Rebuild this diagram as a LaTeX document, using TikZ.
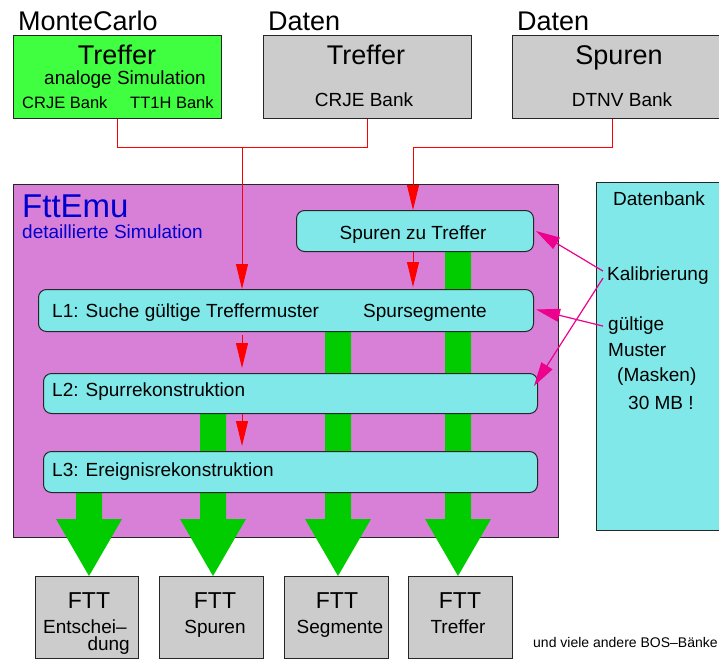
\documentclass[tikz,border=0pt]{standalone}
\usepackage{fontspec}
\setmainfont{Liberation Sans}
\usetikzlibrary{arrows.meta,calc}
\definecolor{gTop}{HTML}{40FF40}
\definecolor{grayBox}{HTML}{CCCCCC}
\definecolor{orch}{HTML}{D880D8}
\definecolor{cyanBox}{HTML}{80E8E8}
\definecolor{gBar}{HTML}{00CC00}
\definecolor{bluText}{HTML}{0000CC}
\pgfdeclarelayer{bg}\pgfdeclarelayer{mid}\pgfsetlayers{bg,mid,main}
\newcommand\fs[1]{\fontsize{#1}{#1}\selectfont}
\newcommand\garrow[3]{%
  \path (#1.south -| #3) coordinate (gs) (#2.north -| #3) coordinate (ge);
  \fill[gBar] ($(gs)+(-13,0)$) -- ($(ge)+(-13,-57)$) -- ($(ge)+(-33,-57)$) -- (ge)
     -- ($(ge)+(33,-57)$) -- ($(ge)+(13,-57)$) -- ($(gs)+(13,0)$) -- cycle;}
\begin{document}
\begin{tikzpicture}[x=1pt,y=-1pt,
  box/.style={draw=black!85, line width=1pt, inner sep=0pt, anchor=north west},
  rbox/.style={box, fill=cyanBox, rounded corners=8pt},
  lbl/.style={inner sep=0pt, anchor=base},
  lblw/.style={inner sep=0pt, anchor=base west},
  lble/.style={inner sep=0pt, anchor=base east},
  redline/.style={red, line width=1pt},
  redarrow/.style={redline, -{Triangle[length=25pt,width=12pt]}},
  magarrow/.style={magenta, line width=1.2pt, -{Triangle[length=24pt,width=13pt]}}]
\useasboundingbox (0,0) rectangle (719,659);
\clip (0,0) rectangle (719,659);

\begin{pgfonlayer}{bg}
\node[box, fill=orch, minimum width=545pt, minimum height=353pt] (emu) at (13,184) {};
\node[box, fill=cyanBox, minimum width=135pt, minimum height=348pt] (db) at (596,182) {};
\end{pgfonlayer}

% top boxes
\node[box, fill=gTop, minimum width=208pt, minimum height=83pt] (g1) at (13,35) {};
\node[box, fill=grayBox, minimum width=208pt, minimum height=83pt] (g2) at (263,35) {};
\node[box, fill=grayBox, minimum width=208pt, minimum height=83pt] (g3) at (512,35) {};
\node[lblw, font=\fs{27}] (mc) at (18,30) {MonteCarlo};
\node[lblw, font=\fs{27}] (d1) at (268,30) {Daten};
\node[lblw, font=\fs{27}] (d2) at (517,30) {Daten};
\node[lbl, font=\fs{27}] (t1) at (117,64) {Treffer};
\node[lbl, font=\fs{19}] (as) at (125,84) {analoge Simulation};
\node[lblw, font=\fs{16.5}] (cb1) at (22,108) {CRJE Bank};
\node[lblw, font=\fs{16.5}] (tb1) at (130,108) {TT1H Bank};
\node[lbl, font=\fs{27}] (t2) at (366,64) {Treffer};
\node[lbl, font=\fs{19}] (cb2) at (364,106) {CRJE Bank};
\node[lbl, font=\fs{27}] (sp) at (619,64) {Spuren};
\node[lbl, font=\fs{19}] (dt) at (622,106) {DTNV Bank};

% FttEmu content
\node[lblw, font=\fs{33}, text=bluText] (fe) at (22,217) {FttEmu};
\node[lblw, font=\fs{19}, text=bluText] (ds) at (22,238) {detaillierte Simulation};
\node[rbox, minimum width=237pt, minimum height=41pt] (s0) at (296,210) {};
\node[rbox, minimum width=495pt, minimum height=42pt] (l1) at (38,289) {};
\node[rbox, minimum width=494pt, minimum height=40pt] (l2) at (43,373) {};
\node[rbox, minimum width=494pt, minimum height=41pt] (l3) at (43,451) {};
\node[lbl, font=\fs{19}] (s0t) at (413,239) {Spuren zu Treffer};
\node[lblw, font=\fs{19}] (l1t) at (52,317) {L1: Suche gültige Treffermuster};
\node[lblw, font=\fs{19}] (l1s) at (363,317) {Spursegmente};
\node[lblw, font=\fs{19}] (l2t) at (52,396) {L2: Spurrekonstruktion};
\node[lblw, font=\fs{19}] (l3t) at (52,476) {L3: Ereignisrekonstruktion};

% Datenbank
\node[lbl, font=\fs{19}] (dbt) at (659,205) {Datenbank};
\node[lblw, font=\fs{19}] (kal) at (607,280) {Kalibrierung};
\node[lblw, font=\fs{19}] (gm1) at (608,330) {gültige};
\node[lblw, font=\fs{19}] (gm2) at (608,356) {Muster};
\node[lblw, font=\fs{19}] (gm3) at (617,381) {(Masken)};
\node[lblw, font=\fs{19}] (gm4) at (628,409) {30 MB !};

% bottom boxes
\node[box, fill=grayBox, minimum width=103pt, minimum height=82pt] (b1) at (35,576) {};
\node[box, fill=grayBox, minimum width=104pt, minimum height=82pt] (b2) at (159,576) {};
\node[box, fill=grayBox, minimum width=104pt, minimum height=82pt] (b3) at (284,576) {};
\node[box, fill=grayBox, minimum width=104pt, minimum height=82pt] (b4) at (408,576) {};
\node[lbl, font=\fs{23}] (f1) at (89,608) {FTT};
\node[lbl, font=\fs{23}] (f2) at (215,608) {FTT};
\node[lbl, font=\fs{23}] (f3) at (337,608) {FTT};
\node[lbl, font=\fs{23}] (f4) at (460,608) {FTT};
\node[lblw, font=\fs{19}] (e1) at (43,633) {Entschei–};
\node[lble, font=\fs{19}] (e2) at (130,650) {dung};
\node[lbl, font=\fs{19}] (e3) at (215,633) {Spuren};
\node[lbl, font=\fs{19}] (e4) at (340,633) {Segmente};
\node[lbl, font=\fs{19}] (e5) at (458,633) {Treffer};
\node[lblw, font=\fs{14}] (uv) at (533,647) {und viele andere BOS–Bänke};

% green data-flow arrows
\coordinate (xa) at (89,0);
\coordinate (xb) at (213,0);
\coordinate (xc) at (338,0);
\coordinate (xd) at (458,0);
\begin{pgfonlayer}{mid}
\garrow{l3}{b1}{xa}
\garrow{l2}{b2}{xb}
\garrow{l1}{b3}{xc}
\garrow{s0}{b4}{xd}
\end{pgfonlayer}

% red connectors
\coordinate (j1) at (242,147);
\coordinate (j2) at (413,147);
\coordinate (r1) at (242,335);
\draw[redline] (g1.south) |- (j1);
\draw[redline] (g2.south) |- (j1);
\draw[redarrow] (j1) -- (j1 |- l1.north);
\draw[redline] ([xshift=-4pt]g3.south) |- (j2);
\draw[redarrow] (j2) -- (j2 |- s0.north);
\draw[redarrow, shorten >=2pt] (s0.south -| j2) -- (l1.north -| j2);
\draw[redarrow, shorten >=5pt] (r1) -- (r1 |- l2.north);
\draw[redarrow, shorten >=5pt] (l2.south -| j1) -- (l3.north -| j1);

% magenta connectors
\draw[magarrow] ([xshift=-4pt,yshift=4pt]kal.west) -- ([xshift=2pt]s0.east);
\draw[magarrow] ([xshift=-4pt,yshift=-3pt]kal.west) -- ([xshift=-4pt,yshift=-13pt]l2.north east);
\draw[magarrow] ([xshift=-5pt,yshift=-1pt]gm1.west) -- ([xshift=2pt,yshift=1pt]l1.east);
\end{tikzpicture}
\end{document}
